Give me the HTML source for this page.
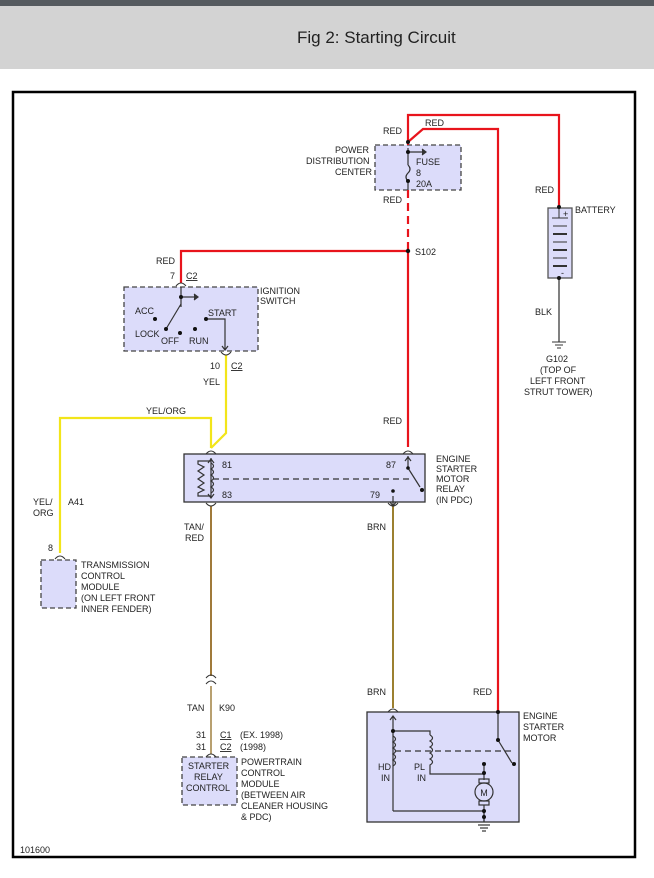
<!DOCTYPE html>
<html><head><style>
body{margin:0;width:654px;height:878px;background:#fff;overflow:hidden;font-family:"Liberation Sans",sans-serif;}
.hdr{position:absolute;left:0;top:0;width:654px;height:69px;background:#d3d3d3;border-top:6px solid #555a5f;box-sizing:border-box;}
.hdr span{position:absolute;left:297px;top:22px;font-size:17px;color:#222;}
svg{position:absolute;left:0;top:0;}
text{font-family:"Liberation Sans",sans-serif;font-size:9px;fill:#222;}
</style></head><body>
<div class="hdr"><span>Fig 2: Starting Circuit</span></div>
<svg width="654" height="878" viewBox="0 0 654 878">
<rect x="13" y="92" width="622" height="765" fill="none" stroke="#000" stroke-width="2.5"/>
<g fill="#dcdcfa" stroke="#444" stroke-width="1.3">
<rect x="375" y="145" width="86" height="45" stroke-dasharray="5,3"/>
<rect x="124" y="287" width="134" height="64" stroke-dasharray="5,3"/>
<rect x="184" y="454" width="241" height="48" stroke="#333"/>
<rect x="41" y="560" width="35" height="48" stroke-dasharray="5,3"/>
<rect x="182" y="757" width="55" height="48" stroke-dasharray="5,3"/>
<rect x="367" y="712" width="152" height="110" stroke="#333"/>
<rect x="548" y="208" width="24" height="70" stroke="#555"/>
</g>
<!-- red wires -->
<g fill="none" stroke="#e8141c" stroke-width="2.2">
<polyline points="408,145 408,115 559,115 559,207"/>
<polyline points="408,142 423,129 498,129 498,712"/>
<line x1="408" y1="190" x2="408" y2="250" stroke-dasharray="8,5"/>
<line x1="408" y1="250" x2="408" y2="447"/>
<polyline points="408,251 181,251 181,283"/>
</g>
<!-- yellow -->
<g fill="none" stroke="#f2e51a" stroke-width="2.2">
<polyline points="226,355 226,433 211,448"/>
<polyline points="211,448 211,418 60,418 60,553"/>
</g>
<!-- tan / brn -->
<line x1="211" y1="506" x2="211" y2="676" stroke="#a07a3a" stroke-width="2"/>
<line x1="211" y1="686" x2="211" y2="754" stroke="#b8a070" stroke-width="2"/>
<line x1="393" y1="506" x2="393" y2="708" stroke="#9c8030" stroke-width="2"/>
<!-- ground battery -->
<line x1="559" y1="278" x2="559" y2="342" stroke="#555" stroke-width="1.5"/>
<g stroke="#333" stroke-width="1">
<line x1="552" y1="342" x2="566" y2="342"/><line x1="555" y1="345" x2="563" y2="345"/><line x1="557" y1="348" x2="561" y2="348"/>
<line x1="552" y1="218" x2="568" y2="218"/><line x1="559" y1="208" x2="559" y2="218"/>
<line x1="553" y1="226" x2="567" y2="226"/><line x1="553" y1="234" x2="567" y2="234" stroke-width="2"/>
<line x1="553" y1="242" x2="567" y2="242"/><line x1="553" y1="250" x2="567" y2="250" stroke-width="2"/>
<line x1="553" y1="258" x2="567" y2="258"/><line x1="553" y1="266" x2="567" y2="266" stroke-width="2"/>
<!-- connector arcs -->
<path d="M176,286 q5,-6 10,0 M221,352 q5,6 10,0 M206,454 q5,-6 10,0 M403,454 q5,-6 10,0 M206,503 q5,6 10,0 M388,503 q5,6 10,0 M55,559 q5,-6 10,0 M206,678 q5,-6 10,0 M206,684 q5,-6 10,0 M206,757 q5,-6 10,0 M388,712 q5,-6 10,0" fill="none"/>
</g>
<!-- fuse internals -->
<g stroke="#333" stroke-width="1.2" fill="none">
<line x1="408" y1="148" x2="408" y2="165"/>
<line x1="408" y1="152" x2="425" y2="152"/><path d="M422,149 l4,3 -4,3" fill="#333"/>
<path d="M408,165 q4,4 0,8 q-4,4 0,8 v9"/>
<!-- ignition -->
<line x1="181" y1="287" x2="181" y2="307"/><line x1="181" y1="297" x2="196" y2="297"/><path d="M194,294 l4,3 -4,3" fill="#333"/>
<line x1="181" y1="304" x2="166" y2="329"/>
<polyline points="206,319 225,319 225,350"/><path d="M222,346 l3,4 3,-4"/>
<!-- relay -->
<line x1="211" y1="458" x2="211" y2="498"/><path d="M208,463 l3,-4 3,4 M208,494 l3,4 3,-4"/>
<path d="M211,463 q5,3 0,6 q5,3 0,6 q5,3 0,6 q5,3 0,6 q5,3 0,6"/>
<polyline points="211,461 198,461 198,464 204,467 198,471 204,475 198,479 204,483 198,487 204,490 198,493 198,496 211,496"/>
<line x1="213" y1="479" x2="410" y2="479" stroke-dasharray="6,4"/>
<line x1="408" y1="456" x2="408" y2="468"/><path d="M405,461 l3,-4 3,4"/><line x1="408" y1="468" x2="420" y2="487"/>
<line x1="393" y1="496" x2="393" y2="506"/><path d="M390,502 l3,4 3,-4"/>
<!-- starter -->
<line x1="393" y1="716" x2="393" y2="811"/><path d="M390,720 l3,-4 3,4"/>
<polyline points="393,811 484,811 484,822"/>
<polyline points="393,731 430,731 430,735"/>
<path d="M393,736 q5,3 0,6 q5,3 0,6 q5,3 0,6 q5,3 0,6 q5,3 0,6"/>
<path d="M430,735 q5,3 0,6 q5,3 0,6 q5,3 0,6 q5,3 0,6 q5,3 0,6 v9 h54"/>
<line x1="484" y1="764" x2="484" y2="780"/>
<line x1="395" y1="751" x2="512" y2="751" stroke-dasharray="6,4"/>
<line x1="498" y1="712" x2="498" y2="740"/><line x1="498" y1="740" x2="512" y2="763"/>
<circle cx="484" cy="792" r="9"/><rect x="479" y="779" width="10" height="4"/><rect x="479" y="801" width="10" height="4"/>
<line x1="484" y1="805" x2="484" y2="822"/>
<line x1="478" y1="825" x2="490" y2="825"/><line x1="480" y1="828" x2="488" y2="828"/><line x1="482" y1="831" x2="486" y2="831"/>
</g>
<g fill="#111">
<circle cx="408" cy="142" r="2"/><circle cx="408" cy="152" r="2"/><circle cx="408" cy="181" r="2"/><circle cx="408" cy="251" r="2.2"/>
<circle cx="559" cy="207" r="2"/><circle cx="559" cy="278" r="2"/>
<circle cx="181" cy="297" r="2"/><circle cx="155" cy="319" r="2"/><circle cx="166" cy="329" r="2"/><circle cx="180" cy="333" r="2"/><circle cx="195" cy="329" r="2"/><circle cx="206" cy="319" r="2"/>
<circle cx="408" cy="468" r="1.8"/><circle cx="422" cy="490" r="2"/><circle cx="393" cy="491" r="1.8"/>
<circle cx="498" cy="712" r="2"/><circle cx="498" cy="740" r="2"/><circle cx="514" cy="764" r="2"/>
<circle cx="393" cy="731" r="2"/><circle cx="484" cy="764" r="2"/><circle cx="484" cy="773" r="2"/><circle cx="484" cy="811" r="2"/><circle cx="484" cy="817" r="2"/>
</g>
<text x="484" y="796" text-anchor="middle" font-size="11">M</text>
<text x="563" y="217" font-size="8">+</text><text x="561" y="276" font-size="8">-</text>
<!-- labels -->
<text x="383" y="134">RED</text><text x="425" y="126">RED</text>
<text x="335" y="153">POWER</text><text x="306" y="164">DISTRIBUTION</text><text x="335" y="175">CENTER</text>
<text x="416" y="165">FUSE</text><text x="416" y="176">8</text><text x="416" y="187">20A</text>
<text x="383" y="203">RED</text><text x="415" y="255">S102</text>
<text x="535" y="193">RED</text><text x="575" y="213">BATTERY</text>
<text x="535" y="315">BLK</text>
<text x="546" y="362">G102</text><text x="540" y="373">(TOP OF</text><text x="530" y="384">LEFT FRONT</text><text x="524" y="395">STRUT TOWER)</text>
<text x="156" y="264">RED</text><text x="170" y="279">7</text><text x="186" y="279" text-decoration="underline">C2</text>
<text x="260" y="294">IGNITION</text><text x="260" y="304">SWITCH</text>
<text x="135" y="314">ACC</text><text x="135" y="337">LOCK</text><text x="161" y="344">OFF</text><text x="189" y="344">RUN</text><text x="208" y="316">START</text>
<text x="210" y="369">10</text><text x="231" y="369" text-decoration="underline">C2</text>
<text x="203" y="385">YEL</text><text x="146" y="414">YEL/ORG</text>
<text x="383" y="424">RED</text>
<text x="222" y="468">81</text><text x="222" y="498">83</text><text x="386" y="468">87</text><text x="370" y="498">79</text>
<text x="436" y="462">ENGINE</text><text x="436" y="472">STARTER</text><text x="436" y="482">MOTOR</text><text x="436" y="492">RELAY</text><text x="436" y="503">(IN PDC)</text>
<text x="33" y="505">YEL/</text><text x="33" y="516">ORG</text><text x="68" y="505">A41</text>
<text x="48" y="551">8</text>
<text x="81" y="568">TRANSMISSION</text><text x="81" y="579">CONTROL</text><text x="81" y="590">MODULE</text><text x="81" y="601">(ON LEFT FRONT</text><text x="81" y="612">INNER FENDER)</text>
<text x="184" y="530">TAN/</text><text x="185" y="541">RED</text>
<text x="367" y="530">BRN</text><text x="367" y="695">BRN</text><text x="473" y="695">RED</text>
<text x="187" y="711">TAN</text><text x="219" y="711">K90</text>
<text x="196" y="738">31</text><text x="220" y="738" text-decoration="underline">C1</text><text x="240" y="738">(EX. 1998)</text>
<text x="196" y="750">31</text><text x="220" y="750" text-decoration="underline">C2</text><text x="240" y="750">(1998)</text>
<text x="188" y="769">STARTER</text><text x="194" y="780">RELAY</text><text x="186" y="791">CONTROL</text>
<text x="241" y="765">POWERTRAIN</text><text x="241" y="776">CONTROL</text><text x="241" y="787">MODULE</text><text x="241" y="798">(BETWEEN AIR</text><text x="241" y="809">CLEANER HOUSING</text><text x="241" y="820">&amp; PDC)</text>
<text x="523" y="719">ENGINE</text><text x="523" y="730">STARTER</text><text x="523" y="741">MOTOR</text>
<text x="378" y="770">HD</text><text x="381" y="781">IN</text><text x="414" y="770">PL</text><text x="417" y="781">IN</text>
<text x="20" y="853">101600</text>
</svg>
</body></html>
